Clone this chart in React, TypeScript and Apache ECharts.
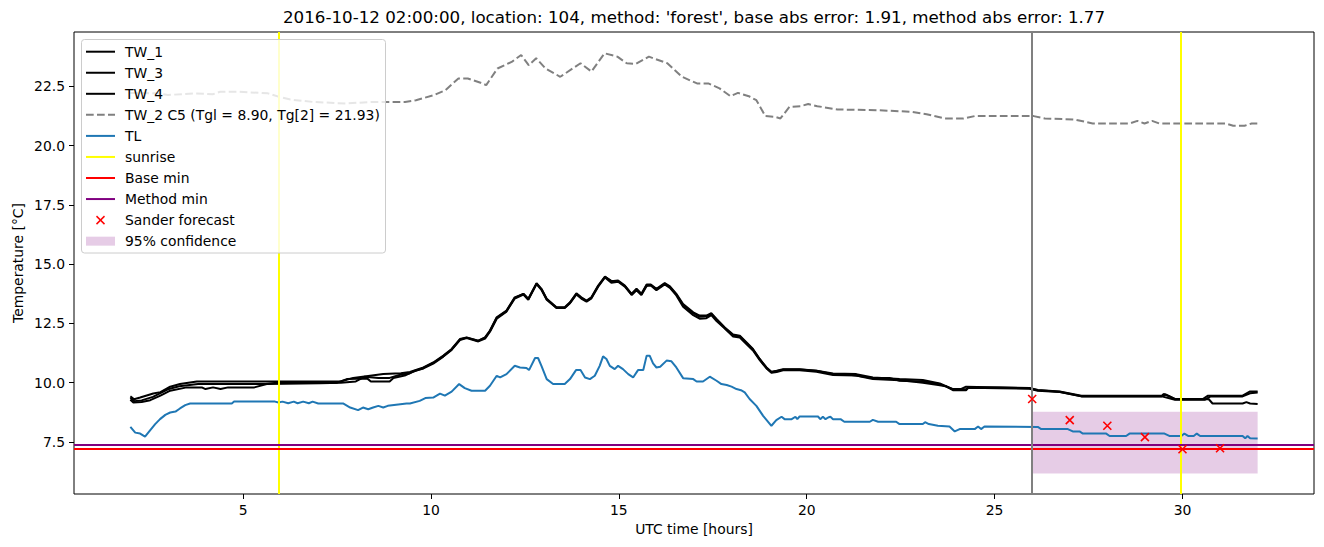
import React, { useEffect, useRef } from "react";
import * as echarts from "echarts";

const TITLE =
  "2016-10-12 02:00:00, location: 104, method: 'forest', base abs error: 1.91, method abs error: 1.77";
const X_NAME = "UTC time [hours]";
const Y_NAME = "Temperature [°C]";

const xTicks = [5, 10, 15, 20, 25, 30];
const yTicks = [7.5, 10, 12.5, 15, 17.5, 20, 22.5];

const TW_1 = [
  [2.0, 9.42], [2.1, 9.3], [2.26, 9.37], [2.61, 9.54], [2.8, 9.6], [3.06, 9.83], [3.32, 9.94], [3.77, 10.05],
  [7.6, 10.05], [7.93, 10.2], [8.73, 10.36], [9.2, 10.4], [9.44, 10.45], [9.8, 10.64], [10.06, 10.85],
  [10.33, 11.14], [10.55, 11.42], [10.77, 11.84], [10.95, 11.91], [11.26, 11.77], [11.44, 11.91], [11.57, 12.2],
  [11.75, 12.76], [12.01, 13.04], [12.23, 13.6], [12.46, 13.75], [12.59, 13.54], [12.81, 14.2], [12.94, 13.96],
  [13.08, 13.54], [13.34, 13.18], [13.56, 13.18], [13.7, 13.39], [13.87, 13.77], [14.0, 13.6], [14.14, 13.46],
  [14.27, 13.6], [14.45, 14.1], [14.63, 14.48], [14.8, 14.28], [14.98, 14.31], [15.16, 14.1], [15.34, 13.75],
  [15.47, 13.96], [15.6, 13.75], [15.74, 14.14], [15.85, 14.14], [16.0, 13.96], [16.22, 14.2], [16.36, 14.06],
  [16.53, 13.75], [16.71, 13.32], [16.98, 12.97], [17.15, 12.83], [17.33, 12.83], [17.46, 12.93], [17.6, 12.69],
  [17.82, 12.33], [18.04, 12.03], [18.22, 11.98], [18.4, 11.7], [18.57, 11.42], [18.75, 11.0], [18.93, 10.64],
  [19.06, 10.46], [19.2, 10.5], [19.37, 10.57], [19.81, 10.57], [20.26, 10.5], [20.7, 10.39], [21.32, 10.36],
  [21.76, 10.22], [22.47, 10.15], [23.09, 10.11], [23.54, 9.97], [23.89, 9.73], [24.1, 9.73], [24.24, 9.83],
  [25.13, 9.8], [25.93, 9.77], [26.15, 9.69], [26.73, 9.63], [27.31, 9.45], [29.45, 9.45], [29.5, 9.52],
  [29.6, 9.45], [29.8, 9.31], [30.54, 9.31], [30.68, 9.45], [31.6, 9.45], [31.8, 9.63], [32.0, 9.63],
];

const TW_3 = [
  [2.0, 9.28], [2.08, 9.16], [2.3, 9.18], [2.53, 9.26], [2.8, 9.45], [3.06, 9.66], [3.5, 9.8], [3.9, 9.8],
  [4.0, 9.73], [4.2, 9.8], [4.4, 9.73], [4.6, 9.8], [5.3, 9.8], [5.63, 9.94], [7.05, 9.97], [7.6, 10.0],
  [8.0, 10.05], [8.24, 10.25], [8.6, 10.2], [8.9, 10.2], [9.18, 10.33], [9.44, 10.4], [9.57, 10.5], [9.8, 10.6],
  [10.06, 10.8], [10.33, 11.1], [10.55, 11.38], [10.77, 11.8], [10.95, 11.88], [11.26, 11.74], [11.44, 11.86],
  [11.57, 12.15], [11.75, 12.7], [12.01, 13.0], [12.23, 13.55], [12.46, 13.72], [12.59, 13.5], [12.81, 14.16],
  [12.94, 13.92], [13.08, 13.5], [13.34, 13.15], [13.56, 13.15], [13.7, 13.35], [13.87, 13.72], [14.0, 13.55],
  [14.14, 13.42], [14.27, 13.56], [14.45, 14.05], [14.63, 14.44], [14.8, 14.22], [14.98, 14.26], [15.16, 14.05],
  [15.34, 13.7], [15.47, 13.9], [15.6, 13.7], [15.74, 14.08], [15.85, 14.1], [16.0, 13.9], [16.22, 14.15],
  [16.36, 14.0], [16.53, 13.68], [16.71, 13.2], [16.98, 12.85], [17.15, 12.7], [17.33, 12.72], [17.46, 12.85],
  [17.6, 12.6], [17.82, 12.28], [18.04, 11.95], [18.22, 11.9], [18.4, 11.62], [18.57, 11.36], [18.75, 10.95],
  [18.93, 10.6], [19.06, 10.42], [19.2, 10.45], [19.37, 10.52], [19.81, 10.52], [20.26, 10.46], [20.7, 10.32],
  [21.32, 10.3], [21.5, 10.24], [21.76, 10.15], [22.47, 10.1], [22.8, 10.05], [23.09, 10.0], [23.5, 9.9],
  [23.7, 9.85], [23.89, 9.68], [24.24, 9.68], [24.3, 9.78], [25.13, 9.76], [25.93, 9.74], [26.15, 9.66],
  [26.73, 9.6], [27.31, 9.42], [29.45, 9.42], [29.8, 9.28], [30.6, 9.28], [30.75, 9.42], [31.6, 9.42],
  [31.8, 9.55], [32.0, 9.58],
];

const TW_4 = [
  [2.0, 9.35], [2.1, 9.22], [2.3, 9.25], [2.6, 9.4], [3.0, 9.72], [3.3, 9.85], [3.8, 9.94], [5.6, 9.94],
  [5.9, 10.0], [7.5, 10.0], [7.76, 10.15], [8.3, 10.18], [8.4, 10.05], [8.9, 10.05], [9.0, 10.2], [9.3, 10.3],
  [9.5, 10.45], [9.8, 10.62], [10.06, 10.83], [10.33, 11.12], [10.55, 11.4], [10.77, 11.82], [10.95, 11.9],
  [11.26, 11.76], [11.44, 11.9], [11.57, 12.18], [11.75, 12.74], [12.01, 13.02], [12.23, 13.58], [12.46, 13.74],
  [12.59, 13.52], [12.81, 14.18], [12.94, 13.94], [13.08, 13.52], [13.34, 13.16], [13.56, 13.16], [13.7, 13.37],
  [13.87, 13.75], [14.0, 13.58], [14.14, 13.44], [14.27, 13.58], [14.45, 14.08], [14.63, 14.46], [14.8, 14.3],
  [14.98, 14.28], [15.16, 14.08], [15.34, 13.72], [15.47, 13.93], [15.6, 13.72], [15.74, 14.12], [15.85, 14.12],
  [16.0, 13.93], [16.22, 14.18], [16.36, 14.03], [16.53, 13.72], [16.71, 13.28], [16.98, 12.93], [17.15, 12.78],
  [17.33, 12.8], [17.46, 12.9], [17.6, 12.66], [17.82, 12.3], [18.04, 12.0], [18.22, 11.95], [18.4, 11.66],
  [18.57, 11.4], [18.75, 10.98], [18.93, 10.62], [19.06, 10.44], [19.2, 10.48], [19.37, 10.55], [19.81, 10.55],
  [20.26, 10.5], [20.7, 10.36], [21.0, 10.36], [21.3, 10.3], [21.76, 10.2], [22.2, 10.2], [22.47, 10.08],
  [23.09, 10.05], [23.54, 9.94], [23.89, 9.72], [24.24, 9.72], [24.3, 9.8], [25.13, 9.8], [25.93, 9.76],
  [26.15, 9.68], [26.73, 9.62], [27.31, 9.43], [29.45, 9.43], [29.55, 9.5], [29.65, 9.43], [29.8, 9.3],
  [30.7, 9.3], [30.8, 9.12], [31.6, 9.12], [31.7, 9.18], [31.8, 9.12], [32.0, 9.1],
];

const TW_2 = [
  [2.0, 22.23], [2.71, 22.21], [3.0, 22.14], [3.7, 22.21], [4.19, 22.17], [4.39, 22.28], [4.88, 22.28],
  [5.66, 22.21], [5.96, 22.06], [6.26, 21.95], [6.85, 21.85], [7.73, 21.78], [8.42, 21.85], [9.31, 21.85],
  [9.6, 21.92], [10.09, 22.14], [10.39, 22.35], [10.73, 22.84], [10.98, 22.84], [11.32, 22.66], [11.47, 22.56],
  [11.77, 23.26], [12.16, 23.55], [12.4, 23.83], [12.6, 23.4], [12.8, 23.69], [13.05, 23.26], [13.44, 22.91],
  [13.98, 23.48], [14.27, 23.13], [14.62, 23.9], [14.96, 23.76], [15.21, 23.48], [15.45, 23.45], [15.8, 23.76],
  [16.29, 23.48], [16.68, 22.91], [17.08, 22.63], [17.38, 22.63], [17.68, 22.42], [17.97, 22.09], [18.17, 22.23],
  [18.46, 22.09], [18.66, 21.92], [18.9, 21.25], [19.15, 21.22], [19.3, 21.15], [19.54, 21.64], [19.84, 21.67],
  [20.04, 21.76], [20.28, 21.67], [20.82, 21.53], [21.91, 21.5], [22.79, 21.43], [23.19, 21.33], [23.68, 21.15],
  [24.17, 21.15], [24.47, 21.25], [26.04, 21.25], [26.34, 21.15], [27.12, 21.11], [27.61, 20.94], [28.6, 20.94],
  [28.8, 21.05], [28.99, 20.94], [29.19, 21.05], [29.38, 20.94], [31.15, 20.94], [31.35, 20.84], [31.65, 20.84],
  [31.84, 20.94], [32.0, 20.94],
];

const TL = [
  [2.0, 8.13], [2.13, 7.89], [2.26, 7.85], [2.39, 7.72], [2.53, 8.0], [2.66, 8.25], [2.79, 8.46], [2.93, 8.64],
  [3.06, 8.74], [3.2, 8.78], [3.32, 8.91], [3.46, 9.05], [3.59, 9.12], [4.7, 9.12], [4.76, 9.2], [5.85, 9.2],
  [5.94, 9.16], [6.05, 9.2], [6.2, 9.13], [6.35, 9.2], [6.45, 9.13], [6.6, 9.2], [6.75, 9.13], [6.85, 9.2],
  [7.0, 9.12], [7.66, 9.12], [7.85, 8.95], [8.06, 8.84], [8.19, 8.95], [8.33, 8.88], [8.46, 8.95], [8.6, 9.02],
  [8.73, 8.95], [8.85, 9.02], [9.35, 9.12], [9.44, 9.12], [9.7, 9.23], [9.85, 9.35], [10.06, 9.37],
  [10.24, 9.54], [10.37, 9.45], [10.55, 9.62], [10.75, 9.94], [10.9, 9.77], [11.08, 9.66], [11.44, 9.66],
  [11.57, 9.87], [11.75, 10.29], [11.84, 10.22], [12.01, 10.36], [12.23, 10.71], [12.37, 10.64], [12.54, 10.62],
  [12.61, 10.53], [12.77, 11.04], [12.85, 11.04], [12.94, 10.71], [13.08, 10.15], [13.25, 9.94], [13.56, 9.94],
  [13.7, 10.15], [13.86, 10.53], [13.98, 10.53], [14.1, 10.22], [14.23, 10.15], [14.36, 10.29], [14.49, 10.71],
  [14.58, 11.11], [14.67, 11.0], [14.76, 10.71], [14.89, 10.57], [14.98, 10.71], [15.11, 10.57], [15.25, 10.36],
  [15.38, 10.22], [15.51, 10.53], [15.65, 10.53], [15.74, 11.14], [15.82, 11.14], [15.91, 10.81], [16.0, 10.64],
  [16.1, 10.67], [16.27, 10.93], [16.4, 10.9], [16.53, 10.64], [16.71, 10.19], [16.98, 10.15], [17.07, 10.05],
  [17.24, 10.05], [17.42, 10.25], [17.6, 10.08], [17.73, 9.94], [17.87, 9.9], [18.0, 9.83], [18.13, 9.73],
  [18.25, 9.68], [18.35, 9.59], [18.48, 9.31], [18.66, 9.02], [18.84, 8.6], [19.06, 8.18], [19.19, 8.42],
  [19.33, 8.56], [19.41, 8.46], [19.6, 8.46], [19.7, 8.56], [19.75, 8.46], [19.81, 8.57], [20.3, 8.57],
  [20.36, 8.46], [20.43, 8.56], [20.5, 8.46], [20.57, 8.53], [20.63, 8.56], [20.7, 8.46], [20.9, 8.46],
  [21.0, 8.35], [21.68, 8.35], [21.76, 8.43], [21.9, 8.35], [22.38, 8.35], [22.47, 8.25], [23.09, 8.25],
  [23.15, 8.33], [23.25, 8.25], [23.49, 8.18], [23.8, 8.15], [23.94, 7.94], [24.07, 8.04], [24.47, 8.04],
  [24.56, 8.15], [24.64, 8.04], [24.73, 8.15], [26.15, 8.13], [26.24, 8.04], [26.95, 8.04], [27.08, 7.94],
  [27.26, 7.94], [27.35, 7.85], [27.97, 7.85], [28.06, 7.75], [28.5, 7.75], [28.59, 7.85], [29.52, 7.85],
  [29.65, 7.75], [29.97, 7.75], [30.05, 7.85], [30.15, 7.75], [30.3, 7.75], [30.38, 7.85], [30.47, 7.75],
  [31.6, 7.75], [31.67, 7.65], [31.73, 7.75], [31.8, 7.65], [32.0, 7.64],
];

const sunriseHours = [5.95, 29.95];
const forecastStartHour = 26;
const baseMin = 7.22;
const methodMin = 7.38;
const sanderHours = [26, 27, 28, 29, 30, 31];
const sanderValues = [9.31, 8.42, 8.18, 7.7, 7.19, 7.23];
const confHours = [26, 32];
const confBounds = [6.16, 8.77];

const legendLabels = [
  "TW_1",
  "TW_3",
  "TW_4",
  "TW_2 C5 (Tgl = 8.90, Tg[2] = 21.93)",
  "TL",
  "sunrise",
  "Base min",
  "Method min",
  "Sander forecast",
  "95% confidence",
];

const FONT = "DejaVu Sans";
const BLUE = "#1f77b4";
const GRAY = "#808080";
const YELLOW = "#ffff00";
const RED = "#ff0000";
const PURPLE = "#800080";
const BAND = "rgba(128,0,128,0.2)";
const DASH = [7.7, 3.3];

function vline(x: number, color: string) {
  return {
    type: "line",
    data: [],
    silent: true,
    markLine: {
      silent: true,
      symbol: ["none", "none"],
      label: { show: false },
      emphasis: { disabled: true },
      animation: false,
      lineStyle: { color, width: 2, type: "solid", opacity: 1 },
      data: [{ xAxis: x }],
    },
  };
}
function hline(y: number, color: string) {
  return {
    type: "line",
    data: [],
    silent: true,
    markLine: {
      silent: true,
      symbol: ["none", "none"],
      label: { show: false },
      emphasis: { disabled: true },
      animation: false,
      lineStyle: { color, width: 2, type: "solid", opacity: 1 },
      data: [{ yAxis: y }],
    },
  };
}
function lineSeries(name: string, data: number[][], color: string, dashed = false) {
  return {
    name,
    type: "line",
    data,
    showSymbol: false,
    symbol: "none",
    silent: true,
    lineStyle: { color, width: 2, type: dashed ? DASH : "solid" },
    emphasis: { disabled: true },
  };
}

function buildLegend() {
  const x0 = 86;
  const x1 = 115;
  const top = 51.7;
  const step = 21.05;
  const els: any[] = [
    {
      type: "rect",
      z: 100,
      shape: { x: 81.5, y: 39.5, width: 304, height: 213.5, r: 3 },
      style: { fill: "rgba(255,255,255,0.8)", stroke: "#cccccc", lineWidth: 1 },
    },
  ];
  const handle = (i: number, cy: number) => {
    const ln = (color: string, dash?: number[]) => ({
      type: "line",
      z: 101,
      shape: { x1: x0, y1: cy, x2: x1, y2: cy },
      style: { stroke: color, lineWidth: 2, lineDash: dash },
    });
    switch (i) {
      case 0:
      case 1:
      case 2:
        return [ln("#000000")];
      case 3:
        return [ln(GRAY, DASH)];
      case 4:
        return [ln(BLUE)];
      case 5:
        return [ln(YELLOW)];
      case 6:
        return [ln(RED)];
      case 7:
        return [ln(PURPLE)];
      case 8: {
        const cx = 100.5;
        const h = 4;
        return [
          { type: "line", z: 101, shape: { x1: cx - h, y1: cy - h, x2: cx + h, y2: cy + h }, style: { stroke: RED, lineWidth: 1.5 } },
          { type: "line", z: 101, shape: { x1: cx - h, y1: cy + h, x2: cx + h, y2: cy - h }, style: { stroke: RED, lineWidth: 1.5 } },
        ];
      }
      default:
        return [
          { type: "rect", z: 101, shape: { x: x0, y: cy - 4.5, width: 29, height: 9 }, style: { fill: BAND } },
        ];
    }
  };
  legendLabels.forEach((label, i) => {
    const cy = top + step * i;
    els.push(...handle(i, cy));
    els.push({
      type: "text",
      z: 101,
      x: 125,
      y: cy,
      style: {
        text: label,
        fill: "#000000",
        fontFamily: FONT,
        fontSize: 13.9,
        align: "left",
        verticalAlign: "middle",
      },
    });
  });
  return els;
}

export default function App() {
  const ref = useRef<HTMLDivElement>(null);
  useEffect(() => {
    document.body.style.margin = "0";
    if (!ref.current) return;
    const chart = echarts.init(ref.current, null, { renderer: "svg" });
    const axisCommon = {
      splitLine: { show: false },
      axisLine: { show: false },
    };
    chart.setOption({
      animation: false,
      backgroundColor: "#ffffff",
      grid: {
        left: 74,
        top: 32,
        width: 1240,
        height: 462,
        show: true,
        borderColor: "#000000",
        borderWidth: 1,
        backgroundColor: "transparent",
        containLabel: false,
      },
      xAxis: {
        type: "value",
        min: 0.5,
        max: 33.5,
        ...axisCommon,
        axisTick: { show: true, inside: false, length: 5, customValues: xTicks, lineStyle: { color: "#000" } },
        axisLabel: {
          customValues: xTicks,
          margin: 9,
          color: "#000",
          fontFamily: FONT,
          fontSize: 13.9,
          formatter: (v: number) => String(v),
        },
      },
      yAxis: {
        type: "value",
        min: 5.3,
        max: 24.8,
        ...axisCommon,
        axisTick: { show: true, inside: false, length: 5, customValues: yTicks, lineStyle: { color: "#000" } },
        axisLabel: {
          customValues: yTicks,
          margin: 9,
          color: "#000",
          fontFamily: FONT,
          fontSize: 13.9,
          formatter: (v: number) => v.toFixed(1),
        },
      },
      series: [
        {
          type: "line",
          data: [],
          silent: true,
          z: 1,
          markArea: {
            silent: true,
            itemStyle: { color: BAND },
            emphasis: { disabled: true },
            label: { show: false },
            data: [[{ xAxis: confHours[0], yAxis: confBounds[0] }, { xAxis: confHours[1], yAxis: confBounds[1] }]],
          },
        },
        lineSeries("TW_1", TW_1, "#000000"),
        lineSeries("TW_3", TW_3, "#000000"),
        lineSeries("TW_4", TW_4, "#000000"),
        lineSeries("TW_2", TW_2, GRAY, true),
        lineSeries("TL", TL, BLUE),
        ...sunriseHours.map((h) => vline(h, YELLOW)),
        hline(baseMin, RED),
        hline(methodMin, PURPLE),
        vline(forecastStartHour, GRAY),
        {
          name: "Sander forecast",
          type: "scatter",
          silent: true,
          z: 5,
          symbol: "path://M0,0L10,10M10,0L0,10",
          symbolSize: 8,
          itemStyle: { color: "none", borderColor: RED, borderWidth: 1.6, opacity: 1 },
          emphasis: { disabled: true },
          data: sanderHours.map((h, i) => [h, sanderValues[i]]),
        },
      ],
      graphic: [
        {
          type: "text",
          x: 694,
          y: 17,
          style: {
            text: TITLE,
            fill: "#000",
            fontFamily: FONT,
            fontSize: 16.7,
            align: "center",
            verticalAlign: "middle",
          },
        },
        {
          type: "text",
          x: 694,
          y: 529,
          style: {
            text: X_NAME,
            fill: "#000",
            fontFamily: FONT,
            fontSize: 13.9,
            align: "center",
            verticalAlign: "middle",
          },
        },
        {
          type: "text",
          x: 18,
          y: 263,
          rotation: Math.PI / 2,
          style: {
            text: Y_NAME,
            fill: "#000",
            fontFamily: FONT,
            fontSize: 13.9,
            align: "center",
            verticalAlign: "middle",
          },
        },
        ...buildLegend(),
      ],
    });
    return () => chart.dispose();
  }, []);
  return <div ref={ref} style={{ width: 1324, height: 547 }} />;
}
